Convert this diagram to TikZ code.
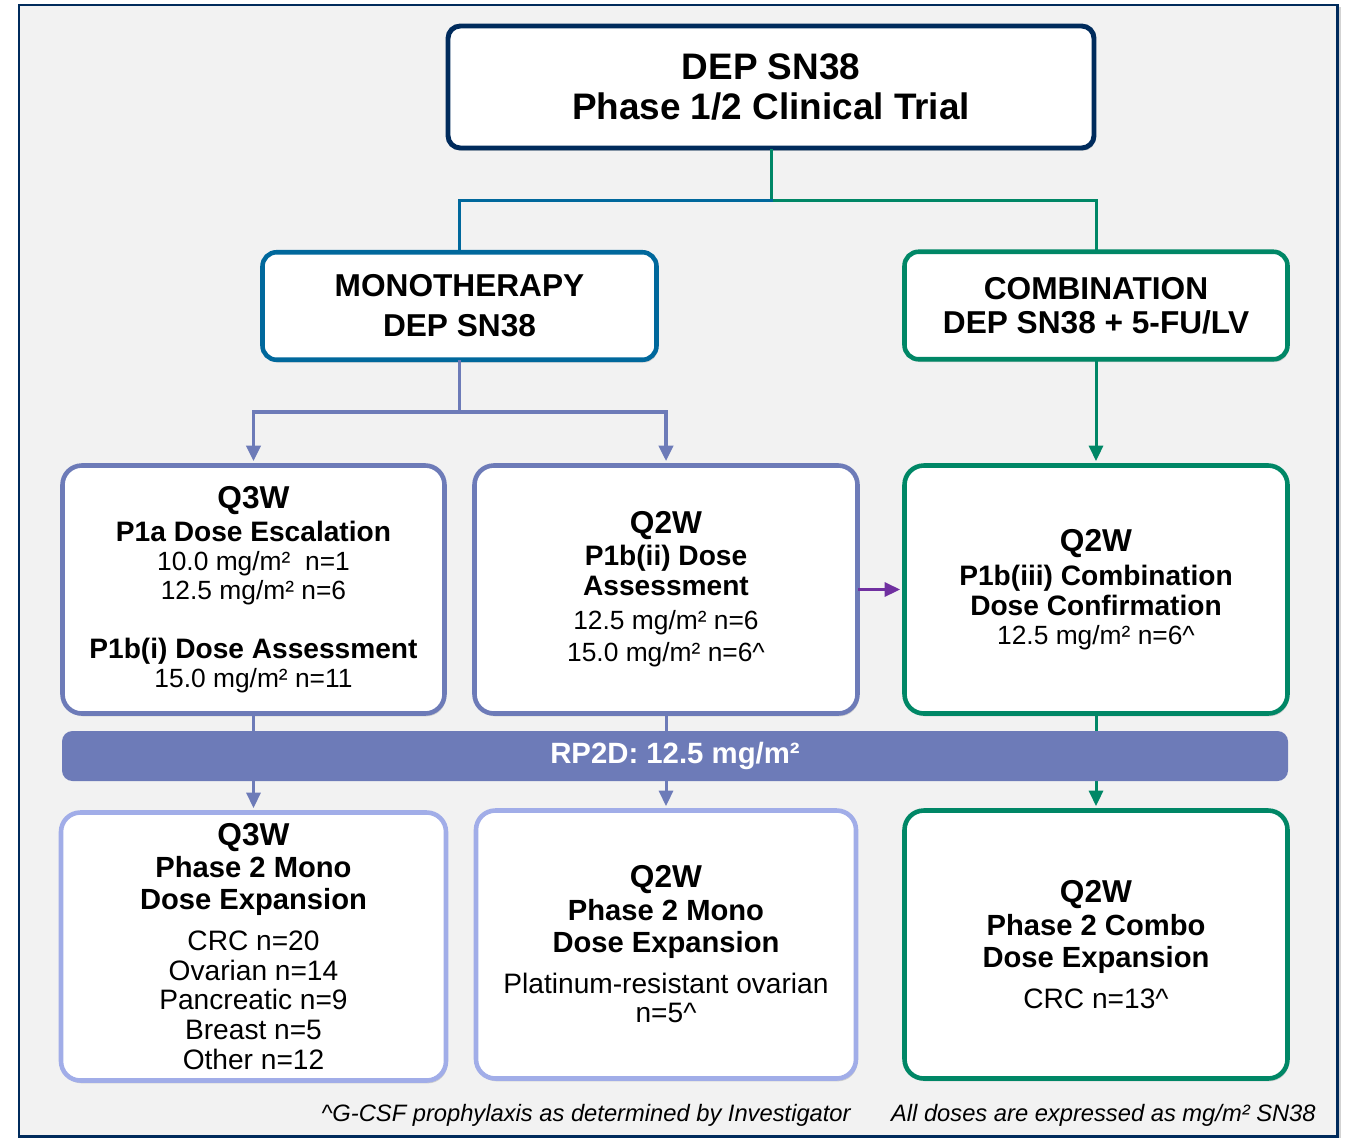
\documentclass[tikz,border=0pt]{standalone}
\usepackage{fontspec}
\setmainfont{Liberation Sans}
\usetikzlibrary{positioning,arrows.meta,calc,shadows}

\definecolor{navy}{HTML}{002B5C}
\definecolor{monoblue}{HTML}{00689C}
\definecolor{combogreen}{HTML}{008766}
\definecolor{peri}{HTML}{6D7BB8}
\definecolor{lightperi}{HTML}{A1ADE8}
\definecolor{arrowpurple}{HTML}{7030A0}
\definecolor{panelgray}{HTML}{F2F2F2}

\newcommand{\qh}{\bfseries\fontsize{18}{18}\selectfont}
\newcommand{\hd}{\bfseries\fontsize{16}{16}\selectfont}
\newcommand{\hdl}{\bfseries\fontsize{16.6}{16.6}\selectfont}

\begin{document}
\begin{tikzpicture}[
  >={Triangle[length=8.8pt,width=8pt]},
  font=\fontsize{15}{16.5}\selectfont,
  box/.style       = {rectangle, rounded corners=11pt, fill=white, line width=2.6pt,
                      align=center, inner sep=2pt,
                      drop shadow={shadow xshift=0.8pt, shadow yshift=-1.6pt, opacity=0.3}},
  topbox/.style    = {box, draw=navy, rounded corners=7pt, line width=2.8pt,
                      minimum width=12.92cm, minimum height=2.44cm,
                      font=\bfseries\fontsize{21}{23.3}\selectfont},
  armbox/.style    = {box, rounded corners=8pt, minimum height=2.15cm,
                      font=\bfseries\fontsize{18}{22.8}\selectfont},
  stagebox/.style  = {box, minimum height=4.96cm},
  expbox/.style    = {box, minimum height=5.36cm, font=\fontsize{16}{17}\selectfont},
  link/.style      = {line width=1.7pt, line cap=rect},
  tok/.style       = {font=\itshape\fontsize{13.5}{14}\selectfont, inner sep=0pt},
]
% Panel background and frame
\fill[panelgray, draw=navy, line width=1.7pt,
      drop shadow={shadow xshift=2pt, shadow yshift=-1pt, opacity=0.35}]
  (0.38,-0.1) rectangle (26.74,-22.72);
\useasboundingbox (0,0) rectangle (27,-22.74);

% Trial at the top, then the two arms
\node[topbox] (top) at (15.42,-1.74) {DEP SN38\\Phase 1/2 Clinical Trial};
\node[armbox, draw=monoblue, minimum width=7.88cm] (mono) at (9.19,-6.12)
  {MONOTHERAPY\\DEP SN38};
\node[armbox, draw=combogreen, minimum width=7.66cm,
      font=\bfseries\fontsize{18}{19.4}\selectfont] (combo) at (21.92,-6.11)
  {COMBINATION\\DEP SN38 + 5-FU/LV};

% Phase 1 stages
\node[stagebox, draw=peri, minimum width=7.64cm] (p1a) at (5.07,-11.79) {%
  {\qh Q3W}\\[2.3pt]
  {\hd P1a Dose Escalation}\\
  10.0 mg/m²~~n=1\\
  12.5 mg/m² n=6\\[17pt]
  {\hd P1b(i) Dose Assessment}\\
  15.0 mg/m² n=11};
\node[stagebox, draw=peri, minimum width=7.66cm,
      font=\fontsize{15}{17}\selectfont] (p1b) at (13.32,-11.79) {%
  {\qh Q2W}\\[1.2pt]
  {\hd P1b(ii) Dose}\\
  {\hd Assessment}\\[2.3pt]
  12.5 mg/m² n=6\\[1.2pt]
  15.0 mg/m² n=6\textasciicircum};
\node[stagebox, draw=combogreen, minimum width=7.66cm] (p1c) at (21.92,-11.79) {%
  {\qh Q2W}\\[2.8pt]
  {\hd P1b(iii) Combination}\\[0.5pt]
  {\hd Dose Confirmation}\\
  12.5 mg/m² n=6\textasciicircum};

% Phase 2 expansions
\node[expbox, draw=lightperi, minimum width=7.7cm] (exp3w) at (5.07,-18.93) {%
  {\qh Q3W}\\[1.3pt]
  {\hdl Phase 2 Mono}\\[1.2pt]
  {\hdl Dose Expansion}\\[6.3pt]
  CRC n=20\\
  Ovarian n=14\\
  Pancreatic n=9\\
  Breast n=5\\
  Other n=12};
\node[expbox, draw=lightperi, minimum width=7.6cm] (exp2w) at (13.32,-18.89) {%
  {\qh Q2W}\\[1.3pt]
  {\hdl Phase 2 Mono}\\[1.2pt]
  {\hdl Dose Expansion}\\[6.3pt]
  Platinum-resistant ovarian\\
  n=5\textasciicircum};
\node[expbox, draw=combogreen, minimum width=7.66cm] (expcb) at (21.92,-18.89) {%
  {\qh Q2W}\\[1.8pt]
  {\hdl Phase 2 Combo}\\[1.2pt]
  {\hdl Dose Expansion}\\[6.3pt]
  CRC n=13\textasciicircum};

% Connectors: trial to arms, arms to stages
\coordinate (split) at (top.south |- 0,-4.0);
\coordinate (msplit) at (mono.south |- 0,-8.24);
\draw[link, combogreen] (top.south) -- (split) -| (combo.north);
\draw[link, monoblue] (split) -| (mono.north);
\draw[link, peri, line width=2.1pt] (mono.south) -- (msplit);
\draw[link, peri, line width=2.1pt, ->, shorten >=1.2pt] (msplit) -| (p1a.north);
\draw[link, peri, line width=2.1pt, ->, shorten >=1.2pt] (msplit) -| (p1b.north);
\draw[link, combogreen, ->, shorten >=1.2pt] (combo.south) -- (p1c.north);
\draw[link, arrowpurple, ->, shorten >=1.2pt] (p1b.east) -- (p1c.west);

% Stages to expansions, behind the RP2D band
\draw[link, peri, ->, shorten >=1.2pt] (p1a.south) -- (exp3w.north);
\draw[link, peri, ->, shorten >=1.2pt] (p1b.south) -- (exp2w.north);
\draw[link, combogreen, ->, shorten >=1.2pt] (p1c.south) -- (expcb.north);
\node[rectangle, rounded corners=6pt, fill=peri, minimum width=24.52cm,
      minimum height=1.0cm, text=white,
      font=\bfseries\fontsize{16.7}{17}\selectfont] (rp2d) at (13.5,-15.12)
  {RP2D: 12.5 mg/m²};

% Footnotes
\node[tok, anchor=base east] (gcsf) at (17.02,-22.42)
  {\textasciicircum G-CSF prophylaxis as determined by Investigator};
\node[tok, anchor=base east] (doses) at (26.32,-22.42)
  {All doses are expressed as mg/m² SN38};
\end{tikzpicture}
\end{document}
